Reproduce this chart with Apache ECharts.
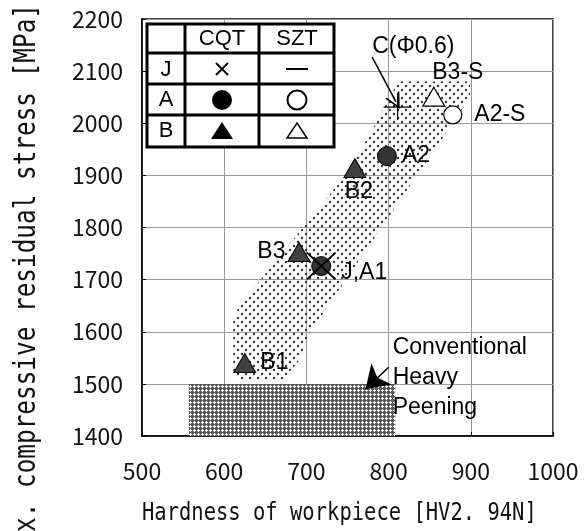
<!DOCTYPE html>
<html lang="en">
<head>
<meta charset="UTF-8">
<title>Hardness vs residual stress</title>
<script src="https://cdn.jsdelivr.net/npm/echarts@6/dist/echarts.min.js"></script>
<style>
  html, body { margin: 0; padding: 0; background: #fff; }
  #main { width: 584px; height: 531px; }
</style>
</head>
<body>
<div id="main"></div>
<script>
// axis ranges
const xTicks = [500, 600, 700, 800, 900, 1000];
const yTicks = [1400, 1500, 1600, 1700, 1800, 1900, 2000, 2100, 2200];

// CQT points (filled)
const cqtTriNames = ['B1', 'B3', 'B2'];
const cqtTriX = [625, 691, 759];
const cqtTriY = [1540, 1753, 1914];
const cqtCircNames = ['J,A1', 'A2'];
const cqtCircX = [718, 798];
const cqtCircY = [1726, 1937];
const jCrossX = [718];
const jCrossY = [1726];
// SZT points (open)
const sztTriNames = ['B3-S'];
const sztTriX = [855];
const sztTriY = [2051];
const sztCircNames = ['A2-S'];
const sztCircX = [878];
const sztCircY = [2016];
// C (phi 0.6)
const cPlusX = [811];
const cPlusY = [2031];

// shaded band of results
const bandX = [814, 899, 899, 704, 692, 670, 619, 611, 611, 619, 753, 808];
const bandY = [2080, 2080, 2049, 1598, 1546, 1506, 1506, 1523, 1627, 1651, 1911, 2068];
// conventional heavy peening area
const hpX = [557, 808];
const hpY = [1400, 1500];

// annotations
const noteText = ['C(Φ0.6)', 'Conventional\nHeavy\nPeening'];
const noteX = [830, 805];
const noteY = [2147, 1511];
const arrowC = [[780, 2127], [809, 2041]];
const arrowHP = [[800, 1532], [772, 1490]];

// titles
const xTitle = 'Hardness of workpiece [HV2. 94N]';
const yTitle = 'Max. compressive residual stress [MPa]';

// label placement per point
const labelPos = {
    'B1': { position: 'right', distance: 4 },
    'B3': { position: 'left', distance: 2 },
    'B2': { position: 'bottom', distance: 2, offset: [4, 0] },
    'J,A1': { position: 'right', distance: 10, offset: [0, 7] },
    'A2': { position: 'right', distance: 5 },
    'B3-S': { position: 'top', distance: 2, offset: [24, 0] },
    'A2-S': { position: 'right', distance: 12 }
};

function pts(names, xs, ys) {
    return xs.map((x, i) => {
        const item = { value: [x, ys[i]] };
        if (names) {
            item.name = names[i];
            item.label = Object.assign({ show: true, formatter: '{b}' }, labelPos[names[i]]);
        }
        return item;
    });
}

// fill patterns
function dotPattern() {
    const c = document.createElement('canvas');
    c.width = 8; c.height = 8;
    const g = c.getContext('2d');
    g.fillStyle = '#333';
    g.beginPath(); g.arc(2, 2, 1.2, 0, Math.PI * 2); g.fill();
    g.beginPath(); g.arc(6, 6, 1.2, 0, Math.PI * 2); g.fill();
    return { image: c, repeat: 'repeat' };
}
function hatchPattern() {
    const c = document.createElement('canvas');
    c.width = 4; c.height = 4;
    const g = c.getContext('2d');
    g.fillStyle = '#5a5a5a';
    g.fillRect(0, 0, 4, 4);
    g.fillStyle = '#fff';
    g.fillRect(2, 1, 1, 3);
    g.fillRect(1, 2, 3, 1);
    return { image: c, repeat: 'repeat' };
}
const dots = dotPattern();
const hatch = hatchPattern();

// thin x and + marks as filled outlines
const crossPath = 'path://M0,1.3 L1.3,0 L15,13.7 L28.7,0 L30,1.3 L16.3,15 L30,28.7 L28.7,30 L15,16.3 L1.3,30 L0,28.7 L13.7,15 Z';
const plusPath = 'path://M13.4,0 H14.6 V12.4 H28 V13.6 H14.6 V26 H13.4 V13.6 H0 V12.4 H13.4 Z';

const chart = echarts.init(document.getElementById('main'));
const labelFont = { fontFamily: 'Liberation Sans', fontSize: 23, color: '#000', opacity: 1 };
const tickFont = { fontFamily: 'Noto Sans CJK JP', fontSize: 23, color: '#111' };

// legend table (drawn on top of the plot)
const tFont = '22px "Liberation Sans"';
const tableParts = [
    { type: 'rect', shape: { x: 147, y: 24, width: 187, height: 123 }, style: { fill: '#fff', stroke: '#000', lineWidth: 3 } },
    { type: 'line', shape: { x1: 185, y1: 24, x2: 185, y2: 147 }, style: { stroke: '#000', lineWidth: 3 } },
    { type: 'line', shape: { x1: 259, y1: 24, x2: 259, y2: 147 }, style: { stroke: '#000', lineWidth: 3 } },
    { type: 'line', shape: { x1: 147, y1: 53, x2: 334, y2: 53 }, style: { stroke: '#000', lineWidth: 3 } },
    { type: 'line', shape: { x1: 147, y1: 84, x2: 334, y2: 84 }, style: { stroke: '#000', lineWidth: 3 } },
    { type: 'line', shape: { x1: 147, y1: 115, x2: 334, y2: 115 }, style: { stroke: '#000', lineWidth: 3 } },
    { type: 'text', x: 222, y: 39, style: { text: 'CQT', font: tFont, fill: '#000', align: 'center', verticalAlign: 'middle' } },
    { type: 'text', x: 297, y: 39, style: { text: 'SZT', font: tFont, fill: '#000', align: 'center', verticalAlign: 'middle' } },
    { type: 'text', x: 166, y: 70, style: { text: 'J', font: tFont, fill: '#000', align: 'center', verticalAlign: 'middle' } },
    { type: 'text', x: 166, y: 100, style: { text: 'A', font: tFont, fill: '#000', align: 'center', verticalAlign: 'middle' } },
    { type: 'text', x: 166, y: 131, style: { text: 'B', font: tFont, fill: '#000', align: 'center', verticalAlign: 'middle' } },
    { type: 'line', shape: { x1: 216, y1: 63, x2: 228, y2: 75 }, style: { stroke: '#000', lineWidth: 2 } },
    { type: 'line', shape: { x1: 228, y1: 63, x2: 216, y2: 75 }, style: { stroke: '#000', lineWidth: 2 } },
    { type: 'line', shape: { x1: 286, y1: 69, x2: 308, y2: 69 }, style: { stroke: '#000', lineWidth: 2 } },
    { type: 'circle', shape: { cx: 222, cy: 100, r: 10 }, style: { fill: '#000' } },
    { type: 'circle', shape: { cx: 297, cy: 100, r: 9.5 }, style: { fill: '#fff', stroke: '#000', lineWidth: 2 } },
    { type: 'polygon', shape: { points: [[222, 122], [233, 139], [211, 139]] }, style: { fill: '#000' } },
    { type: 'polygon', shape: { points: [[297, 123], [307, 138], [287, 138]] }, style: { fill: '#fff', stroke: '#000', lineWidth: 1.5 } }
].map((e, i) => Object.assign({ z: 100 + i }, e));

const option = {
    animation: false,
    textStyle: { fontFamily: 'Liberation Sans' },
    grid: {
        left: 142, right: 31, top: 19, bottom: 95,
        show: true, borderColor: '#000', borderWidth: 1.5
    },
    xAxis: {
        type: 'value',
        min: xTicks[0], max: xTicks[xTicks.length - 1], interval: 100,
        axisLine: { lineStyle: { color: '#000', width: 1.5 } },
        axisTick: { inside: true, length: 4, lineStyle: { color: '#000' } },
        axisLabel: Object.assign({ margin: 24, formatter: v => String(v) }, tickFont),
        splitLine: { lineStyle: { color: '#999', width: 1 } }
    },
    yAxis: {
        type: 'value',
        min: yTicks[0], max: yTicks[yTicks.length - 1], interval: 100,
        axisLine: { show: true, lineStyle: { color: '#000', width: 1.5 } },
        axisTick: { show: true, inside: true, length: 4, lineStyle: { color: '#000' } },
        axisLabel: Object.assign({ margin: 19, formatter: v => String(v) }, tickFont),
        splitLine: { lineStyle: { color: '#999', width: 1 } }
    },
    graphic: [
        {
            type: 'text', x: 142, y: 514, scaleX: 0.83,
            style: {
                text: xTitle, font: '24.7px "DejaVu Sans Mono"', fill: '#111',
                align: 'left', verticalAlign: 'middle'
            }
        },
        {
            type: 'text', x: 27, y: 4, rotation: Math.PI / 2, scaleX: 0.812,
            style: {
                text: yTitle, font: '30px "DejaVu Sans Mono"', fill: '#111',
                align: 'right', verticalAlign: 'middle'
            }
        },
        { type: 'group', z: 100, children: tableParts }
    ],
    series: [
        {
            type: 'custom', z: 1, silent: true,
            data: [[bandX[0], bandY[0]]],
            renderItem: (params, api) => ({
                type: 'polygon',
                shape: { points: bandX.map((x, i) => api.coord([x, bandY[i]])) },
                style: { fill: dots }
            })
        },
        {
            type: 'custom', z: 1, silent: true,
            data: [[hpX[0], hpY[0]]],
            renderItem: (params, api) => {
                const a = api.coord([hpX[0], hpY[1]]);
                const b = api.coord([hpX[1], hpY[0]]);
                return {
                    type: 'rect',
                    shape: { x: a[0], y: a[1], width: b[0] - a[0], height: b[1] - a[1] },
                    style: { fill: hatch }
                };
            }
        },
        {
            type: 'lines', coordinateSystem: 'cartesian2d', z: 5,
            symbol: ['none', 'path://M0,13 L5,0 L10,13 L8.8,13 L5,3 L1.2,13 Z'],
            symbolSize: [14, 16],
            lineStyle: { color: '#000', width: 1.5, opacity: 1 },
            data: [{ coords: arrowC }]
        },
        {
            type: 'lines', coordinateSystem: 'cartesian2d', z: 5,
            symbol: ['none', 'arrow'],
            symbolSize: [20, 22],
            lineStyle: { color: '#000', width: 1.5, opacity: 1 },
            data: [{ coords: arrowHP }]
        },
        {
            type: 'scatter', z: 6, silent: true,
            symbol: plusPath, symbolSize: [28, 26],
            itemStyle: { color: '#000', opacity: 1 },
            data: pts(null, cPlusX, cPlusY)
        },
        {
            type: 'scatter', z: 7,
            symbol: 'triangle', symbolSize: [22, 19],
            itemStyle: { color: '#404040', borderColor: '#000', borderWidth: 1, opacity: 1 },
            label: labelFont,
            data: pts(cqtTriNames, cqtTriX, cqtTriY)
        },
        {
            type: 'scatter', z: 7,
            symbol: 'circle', symbolSize: 19,
            itemStyle: { color: '#333', borderColor: '#000', borderWidth: 1, opacity: 1 },
            label: labelFont,
            data: pts(cqtCircNames, cqtCircX, cqtCircY)
        },
        {
            type: 'scatter', z: 7,
            symbol: 'triangle', symbolSize: [22, 19],
            itemStyle: { color: '#fff', borderColor: '#000', borderWidth: 1.2, opacity: 1 },
            label: labelFont,
            data: pts(sztTriNames, sztTriX, sztTriY)
        },
        {
            type: 'scatter', z: 7,
            symbol: 'circle', symbolSize: 18,
            itemStyle: { color: '#fff', borderColor: '#000', borderWidth: 1.2, opacity: 1 },
            label: labelFont,
            data: pts(sztCircNames, sztCircX, sztCircY)
        },
        {
            type: 'scatter', z: 8, symbolSize: 0, silent: true,
            itemStyle: { opacity: 1 },
            label: Object.assign({ show: true, formatter: '{b}', lineHeight: 30, align: 'left' }, labelFont),
            data: [
                { name: noteText[0], value: [noteX[0], noteY[0]], label: { position: 'inside', align: 'center', verticalAlign: 'middle' } },
                { name: noteText[1], value: [noteX[1], noteY[1]], label: { position: 'right', distance: 0 } }
            ]
        },
        {
            name: 'J', type: 'scatter', z: 9,
            symbol: crossPath, symbolSize: [30, 28],
            itemStyle: { color: '#000', opacity: 1 },
            data: pts(null, jCrossX, jCrossY)
        }
    ]
};
chart.setOption(option);
</script>
</body>
</html>
